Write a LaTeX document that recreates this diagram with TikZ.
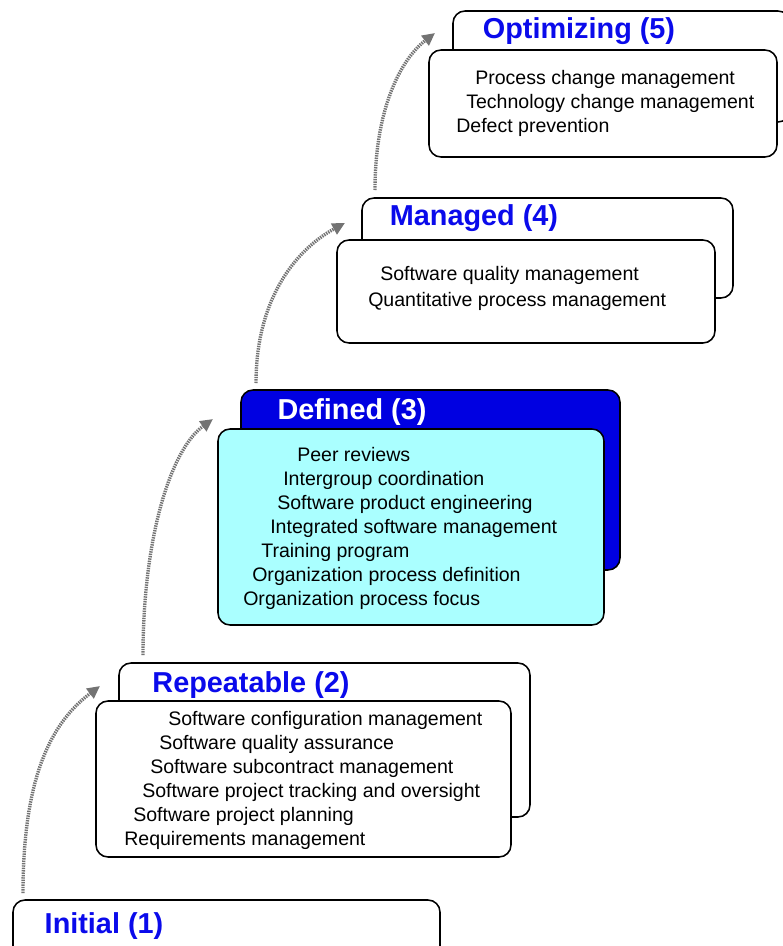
\documentclass[tikz,border=0pt]{standalone}
\usepackage{fontspec}
\setmainfont{Liberation Sans}
\usetikzlibrary{arrows.meta}
\definecolor{titleblue}{RGB}{10,10,235}
\definecolor{deepblue}{RGB}{0,0,225}
\definecolor{paleaqua}{RGB}{170,255,255}
\begin{document}
\begin{tikzpicture}[x=0.025cm,y=-0.025cm,
  tab/.style={draw, line width=1.1pt, rounded corners=0.3cm, fill=white},
  card/.style={draw, line width=1.1pt, rounded corners=0.3cm, fill=white},
  level/.style={font=\fontsize{20.5}{23}\selectfont\bfseries, text=titleblue, inner sep=0, yshift=-1.5pt},
  task/.style={anchor=west, font=\fontsize{13.9}{16}\selectfont, inner sep=0, text height=10pt, text depth=3pt, yshift=-2pt},
  climb/.style={draw=black!55, line width=2.4pt, dash pattern=on 1pt off 0.7pt, -{Triangle[length=9pt,width=8.5pt]}}]
\useasboundingbox (0,0) rectangle (782,946);

% Initial (1)
\draw[card] (13,900) rectangle (440,958);
\node[level] (initial) at (104,924) {Initial (1)};

% Repeatable (2)
\draw[tab] (119,663) rectangle (530,817);
\draw[card] (96,701) rectangle (511,857);
\node[level] (repeatable) at (251,683) {Repeatable (2)};
\node[task] (r1) at (168,718) {Software configuration management};
\node[task] (r2) at (159,742) {Software quality assurance};
\node[task] (r3) at (150,766) {Software subcontract management};
\node[task] (r4) at (142,790) {Software project tracking and oversight};
\node[task] (r5) at (133,814) {Software project planning};
\node[task] (r6) at (124,838) {Requirements management};

% Defined (3)
\draw[tab, fill=deepblue] (241,390) rectangle (620,570);
\draw[card, fill=paleaqua] (218,429) rectangle (604,625);
\node[level, text=white] (defined) at (352,410) {Defined (3)};
\node[task] (d1) at (297,454) {Peer reviews};
\node[task] (d2) at (283,478) {Intergroup coordination};
\node[task] (d3) at (277,502) {Software product engineering};
\node[task] (d4) at (270,526) {Integrated software management};
\node[task] (d5) at (261,550) {Training program};
\node[task] (d6) at (252,574) {Organization process definition};
\node[task] (d7) at (243,598) {Organization process focus};

% Managed (4)
\draw[tab] (362,198) rectangle (733,298);
\draw[card] (337,240) rectangle (715,343);
\node[level] (managed) at (474,216) {Managed (4)};
\node[task] (m1) at (380,273) {Software quality management};
\node[task] (m2) at (368,299) {Quantitative process management};

% Optimizing (5)
\draw[tab] (453,11) rectangle (790,122);
\draw[card] (429,50) rectangle (777,157);
\node[level] (optimizing) at (579,29) {Optimizing (5)};
\node[task] (o1) at (475,77) {Process change management};
\node[task] (o2) at (466,101) {Technology change management};
\node[task] (o3) at (456,125) {Defect prevention};

% steps up
\coordinate (s1) at (23,893);   \coordinate (e1) at (100,686);
\coordinate (s2) at (143,655);  \coordinate (e2) at (213,419);
\coordinate (s3) at (256,383);  \coordinate (e3) at (345,223);
\coordinate (s4) at (375,190);  \coordinate (e4) at (435,33);
\draw[climb] (s1) .. controls (23,770) and (55,720) .. (e1);
\draw[climb] (s2) .. controls (143,540) and (170,450) .. (e2);
\draw[climb] (s3) .. controls (256,300) and (295,250) .. (e3);
\draw[climb] (s4) .. controls (375,110) and (400,60) .. (e4);
\end{tikzpicture}
\end{document}
